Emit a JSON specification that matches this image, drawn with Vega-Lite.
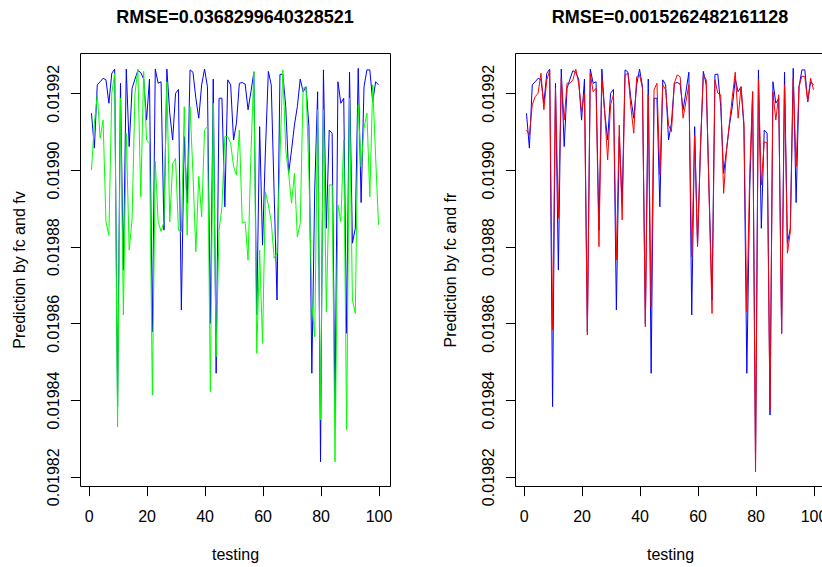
{
"$schema": "https://vega.github.io/schema/vega-lite/v6.json",
"autosize": "none",
"padding": {"left": 80, "top": 53, "right": 742, "bottom": 514},
"background": "white",
"datasets": {"d": [
{"t":1,"fc":0.0199148,"fv":0.01990,"fr":0.0199104},
{"t":2,"fc":0.0199057,"fv":0.0199122,"fr":0.0199091},
{"t":3,"fc":0.0199222,"fv":0.0199196,"fr":0.019917},
{"t":4,"fc":0.019923,"fv":0.0199083,"fr":0.0199191},
{"t":5,"fc":0.0199239,"fv":0.019913,"fr":0.01992},
{"t":6,"fc":0.0199235,"fv":0.0198865,"fr":0.0199252},
{"t":7,"fc":0.0199174,"fv":0.019883,"fr":0.0199157},
{"t":8,"fc":0.0199252,"fv":0.01992,"fr":0.0199235},
{"t":9,"fc":0.0199263,"fv":0.0199252,"fr":0.0199259},
{"t":10,"fc":0.0198383,"fv":0.019833,"fr":0.0198583},
{"t":11,"fc":0.0199226,"fv":0.0199187,"fr":0.0199213},
{"t":12,"fc":0.0198739,"fv":0.0198622,"fr":0.0198874},
{"t":13,"fc":0.0199263,"fv":0.0199096,"fr":0.0199239},
{"t":14,"fc":0.0199061,"fv":0.0198791,"fr":0.019913},
{"t":15,"fc":0.0199213,"fv":0.019887,"fr":0.0199226},
{"t":16,"fc":0.0199237,"fv":0.01992,"fr":0.0199226},
{"t":17,"fc":0.0199259,"fv":0.0199263,"fr":0.0199235},
{"t":18,"fc":0.0199254,"fv":0.019893,"fr":0.0199263},
{"t":19,"fc":0.0199237,"fv":0.0199257,"fr":0.0199226},
{"t":20,"fc":0.019913,"fv":0.0199078,"fr":0.0199152},
{"t":21,"fc":0.0199237,"fv":0.019907,"fr":0.01992},
{"t":22,"fc":0.0198578,"fv":0.0198413,"fr":0.019857},
{"t":23,"fc":0.0199263,"fv":0.0199022,"fr":0.0199252},
{"t":24,"fc":0.0199226,"fv":0.0198865,"fr":0.0199204},
{"t":25,"fc":0.019923,"fv":0.019884,"fr":0.0199213},
{"t":26,"fc":0.0198843,"fv":0.0198865,"fr":0.01988},
{"t":27,"fc":0.0199263,"fv":0.019923,"fr":0.0199239},
{"t":28,"fc":0.0199148,"fv":0.0198865,"fr":0.0199148},
{"t":29,"fc":0.0199078,"fv":0.0199017,"fr":0.0199026},
{"t":30,"fc":0.01992,"fv":0.019903,"fr":0.019917},
{"t":31,"fc":0.019921,"fv":0.0198843,"fr":0.0199196},
{"t":32,"fc":0.0198635,"fv":0.0198839,"fr":0.0198765},
{"t":33,"fc":0.0199087,"fv":0.0199165,"fr":0.0199117},
{"t":34,"fc":0.0198913,"fv":0.019883,"fr":0.019887},
{"t":35,"fc":0.0199261,"fv":0.0199165,"fr":0.0199248},
{"t":36,"fc":0.0199255,"fv":0.0198991,"fr":0.0199252},
{"t":37,"fc":0.0199187,"fv":0.0198787,"fr":0.0199165},
{"t":38,"fc":0.0199135,"fv":0.0198983,"fr":0.0199096},
{"t":39,"fc":0.0199222,"fv":0.0198878,"fr":0.0199243},
{"t":40,"fc":0.0199263,"fv":0.0199104,"fr":0.0199248},
{"t":41,"fc":0.0199217,"fv":0.0199113,"fr":0.0199213},
{"t":42,"fc":0.01986,"fv":0.0198422,"fr":0.0198591},
{"t":43,"fc":0.0199237,"fv":0.0199174,"fr":0.0199196},
{"t":44,"fc":0.019847,"fv":0.0198513,"fr":0.0198643},
{"t":45,"fc":0.0199187,"fv":0.0198843,"fr":0.0199209},
{"t":46,"fc":0.0199187,"fv":0.0198904,"fr":0.0199226},
{"t":47,"fc":0.0198904,"fv":0.0199087,"fr":0.0198987},
{"t":48,"fc":0.0199235,"fv":0.0199087,"fr":0.0199222},
{"t":49,"fc":0.0199222,"fv":0.019907,"fr":0.0199209},
{"t":50,"fc":0.0199078,"fv":0.0199009,"fr":0.0199117},
{"t":51,"fc":0.0199122,"fv":0.0198987,"fr":0.01991},
{"t":52,"fc":0.0199226,"fv":0.0199104,"fr":0.0199226},
{"t":53,"fc":0.0199228,"fv":0.0198861,"fr":0.0199248},
{"t":54,"fc":0.0199224,"fv":0.0198865,"fr":0.0199243},
{"t":55,"fc":0.0199157,"fv":0.0198765,"fr":0.0199135},
{"t":56,"fc":0.0199204,"fv":0.0199043,"fr":0.0199178},
{"t":57,"fc":0.0199255,"fv":0.0199257,"fr":0.0199222},
{"t":58,"fc":0.0198622,"fv":0.0198522,"fr":0.0198774},
{"t":59,"fc":0.0199113,"fv":0.0198791,"fr":0.0199091},
{"t":60,"fc":0.0198804,"fv":0.0198548,"fr":0.01988},
{"t":61,"fc":0.0199052,"fv":0.0198943,"fr":0.0199061},
{"t":62,"fc":0.0199257,"fv":0.0198909,"fr":0.0199248},
{"t":63,"fc":0.0199222,"fv":0.0198865,"fr":0.0199235},
{"t":64,"fc":0.0198939,"fv":0.019877,"fr":0.019893},
{"t":65,"fc":0.0198661,"fv":0.0198783,"fr":0.0198626},
{"t":66,"fc":0.0199249,"fv":0.0199035,"fr":0.0199235},
{"t":67,"fc":0.019925,"fv":0.0199261,"fr":0.01992},
{"t":68,"fc":0.0199165,"fv":0.0199052,"fr":0.0199196},
{"t":69,"fc":0.0198991,"fv":0.0198991,"fr":0.0198939},
{"t":70,"fc":0.0199052,"fv":0.0198913,"fr":0.0199052},
{"t":71,"fc":0.0199117,"fv":0.0198991,"fr":0.0199122},
{"t":72,"fc":0.0199165,"fv":0.0198826,"fr":0.0199191},
{"t":73,"fc":0.0199237,"fv":0.0198861,"fr":0.0199255},
{"t":74,"fc":0.0199204,"fv":0.0199213,"fr":0.0199135},
{"t":75,"fc":0.0199217,"fv":0.0199217,"fr":0.0199217},
{"t":76,"fc":0.0199113,"fv":0.0198991,"fr":0.0199122},
{"t":77,"fc":0.019847,"fv":0.0198652,"fr":0.019863},
{"t":78,"fc":0.0198948,"fv":0.0198565,"fr":0.0198991},
{"t":79,"fc":0.0199204,"fv":0.0199157,"fr":0.0199204},
{"t":80,"fc":0.0198239,"fv":0.0198348,"fr":0.0198213},
{"t":81,"fc":0.0199261,"fv":0.0199157,"fr":0.0199237},
{"t":82,"fc":0.0198848,"fv":0.019863,"fr":0.0198961},
{"t":83,"fc":0.0199104,"fv":0.0198961,"fr":0.0199074},
{"t":84,"fc":0.0199096,"fv":0.0198961,"fr":0.019907},
{"t":85,"fc":0.0198361,"fv":0.0198239,"fr":0.0198374},
{"t":86,"fc":0.019923,"fv":0.0198909,"fr":0.0199204},
{"t":87,"fc":0.0199174,"fv":0.0198865,"fr":0.019913},
{"t":88,"fc":0.0199187,"fv":0.0199078,"fr":0.0199196},
{"t":89,"fc":0.0198574,"fv":0.0198322,"fr":0.0198574},
{"t":90,"fc":0.0199255,"fv":0.0199187,"fr":0.0199222},
{"t":91,"fc":0.0198809,"fv":0.0198661,"fr":0.0198783},
{"t":92,"fc":0.0198848,"fv":0.0198626,"fr":0.0198839},
{"t":93,"fc":0.0199265,"fv":0.019917,"fr":0.0199239},
{"t":94,"fc":0.0198915,"fv":0.0199009,"fr":0.0199009},
{"t":95,"fc":0.0199217,"fv":0.0199109,"fr":0.0199217},
{"t":96,"fc":0.0199261,"fv":0.0199148,"fr":0.0199245},
{"t":97,"fc":0.0199261,"fv":0.019893,"fr":0.0199243},
{"t":98,"fc":0.0199178,"fv":0.0199222,"fr":0.0199178},
{"t":99,"fc":0.019923,"fv":0.0199035,"fr":0.0199239},
{"t":100,"fc":0.0199222,"fv":0.0198857,"fr":0.0199209}
]},
"data": {"name": "d"},
"spacing": 125,
"bounds": "flush",
"hconcat": [
{
"width": 310, "height": 433,
"title": {"text": "RMSE=0.0368299640328521", "fontSize": 18, "fontWeight": "bold", "anchor": "middle", "baseline": "alphabetic", "offset": 12, "color": "black", "font": "Liberation Sans"},
"encoding": {
"x": {"field": "t", "type": "quantitative", "scale": {"domain": [-2.96, 103.96], "nice": false, "zero": false},
"axis": {"values": [0,20,40,60,80,100], "title": "testing", "labelPadding": 26, "labelBaseline": "alphabetic", "labelFlush": false, "labelOverlap": false, "titleX": 155, "titleY": 73, "titleBaseline": "alphabetic", "titleAlign": "center"}}
},
"layer": [
{"mark": {"type": "line", "color": "#0000FF", "strokeWidth": 1},
"encoding": {"y": {"field": "fc", "type": "quantitative", "scale": {"domain": [0.0198176, 0.0199305], "nice": false, "zero": false},
"axis": {"values": [0.01982,0.01984,0.01986,0.01988,0.0199,0.01992], "format": ".5f", "title": "Prediction by fc and fv", "labelAngle": -90, "labelAlign": "center", "labelBaseline": "alphabetic", "labelPadding": 12, "labelOverlap": false, "labelFlush": false, "titleX": -56, "titleY": 216.5, "titleAngle": -90, "titleBaseline": "alphabetic", "titleAlign": "center"}}}},
{"mark": {"type": "line", "color": "#00FF00", "strokeWidth": 1},
"encoding": {"y": {"field": "fv", "type": "quantitative", "scale": {"domain": [0.0198176, 0.0199305], "nice": false, "zero": false},
"axis": {"values": [0.01982,0.01984,0.01986,0.01988,0.0199,0.01992], "format": ".5f", "title": "Prediction by fc and fv", "labelAngle": -90, "labelAlign": "center", "labelBaseline": "alphabetic", "labelPadding": 12, "labelOverlap": false, "labelFlush": false, "titleX": -56, "titleY": 216.5, "titleAngle": -90, "titleBaseline": "alphabetic", "titleAlign": "center"}}}}
]
},
{
"width": 310, "height": 433,
"title": {"text": "RMSE=0.0015262482161128", "fontSize": 18, "fontWeight": "bold", "anchor": "middle", "baseline": "alphabetic", "offset": 12, "color": "black", "font": "Liberation Sans"},
"encoding": {
"x": {"field": "t", "type": "quantitative", "scale": {"domain": [-2.96, 103.96], "nice": false, "zero": false},
"axis": {"values": [0,20,40,60,80,100], "title": "testing", "labelPadding": 26, "labelBaseline": "alphabetic", "labelFlush": false, "labelOverlap": false, "titleX": 155, "titleY": 73, "titleBaseline": "alphabetic", "titleAlign": "center"}}
},
"layer": [
{"mark": {"type": "line", "color": "#0000FF", "strokeWidth": 1},
"encoding": {"y": {"field": "fc", "type": "quantitative", "scale": {"domain": [0.0198176, 0.0199305], "nice": false, "zero": false},
"axis": {"values": [0.01982,0.01984,0.01986,0.01988,0.0199,0.01992], "format": ".5f", "title": "Prediction by fc and fr", "labelAngle": -90, "labelAlign": "center", "labelBaseline": "alphabetic", "labelPadding": 12, "labelOverlap": false, "labelFlush": false, "titleX": -60, "titleY": 216.5, "titleAngle": -90, "titleBaseline": "alphabetic", "titleAlign": "center"}}}},
{"mark": {"type": "line", "color": "#FF0000", "strokeWidth": 1},
"encoding": {"y": {"field": "fr", "type": "quantitative", "scale": {"domain": [0.0198176, 0.0199305], "nice": false, "zero": false},
"axis": {"values": [0.01982,0.01984,0.01986,0.01988,0.0199,0.01992], "format": ".5f", "title": "Prediction by fc and fr", "labelAngle": -90, "labelAlign": "center", "labelBaseline": "alphabetic", "labelPadding": 12, "labelOverlap": false, "labelFlush": false, "titleX": -60, "titleY": 216.5, "titleAngle": -90, "titleBaseline": "alphabetic", "titleAlign": "center"}}}}
]
}
],
"config": {
"view": {"stroke": "black", "strokeWidth": 1},
"font": "Liberation Sans",
"axis": {"grid": false, "domain": false, "tickColor": "black", "tickSize": 9.6, "tickWidth": 1, "labelColor": "black", "labelFontSize": 16, "labelFont": "Liberation Sans", "titleFont": "Liberation Sans", "titleFontSize": 16, "titleFontWeight": "normal", "titleColor": "black"}
}
}
